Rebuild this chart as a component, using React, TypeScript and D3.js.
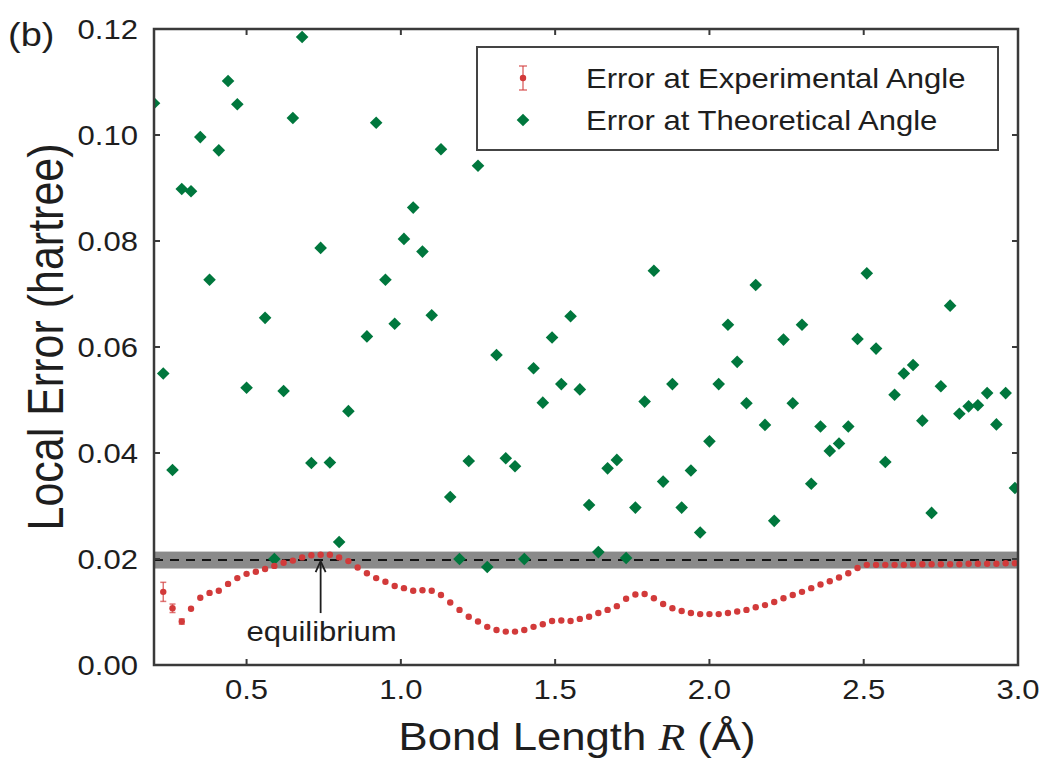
import * as d3 from 'd3';

// Error at theoretical angle (green diamonds)
const greenR = [
  0.2, 0.23, 0.26, 0.29, 0.32, 0.35, 0.38, 0.41, 0.44, 0.47, 0.5, 0.56, 0.59, 0.62, 0.65, 0.68,
  0.71, 0.74, 0.77, 0.8, 0.83, 0.89, 0.92, 0.95, 0.98, 1.01, 1.04, 1.07, 1.1, 1.13, 1.16, 1.19,
  1.22, 1.25, 1.28, 1.31, 1.34, 1.37, 1.4, 1.43, 1.46, 1.49, 1.52, 1.55, 1.58, 1.61, 1.64, 1.67,
  1.7, 1.73, 1.76, 1.79, 1.82, 1.85, 1.88, 1.91, 1.94, 1.97, 2.0, 2.03, 2.06, 2.09, 2.12, 2.15,
  2.18, 2.21, 2.24, 2.27, 2.3, 2.33, 2.36, 2.39, 2.42, 2.45, 2.48, 2.51, 2.54, 2.57, 2.6, 2.63,
  2.66, 2.69, 2.72, 2.75, 2.78, 2.81, 2.84, 2.87, 2.9, 2.93, 2.96, 2.99,
];
const greenErr = [
  0.106, 0.055, 0.0368, 0.0898, 0.0894, 0.0996, 0.0727, 0.0971, 0.1102, 0.1058, 0.0523, 0.0655,
  0.02, 0.0517, 0.1032, 0.1185, 0.0381, 0.0787, 0.0382, 0.0232, 0.0479, 0.062, 0.1023, 0.0727,
  0.0644, 0.0804, 0.0863, 0.078, 0.066, 0.0973, 0.0317, 0.02, 0.0385, 0.0942, 0.0185, 0.0585,
  0.039, 0.0375, 0.02, 0.056, 0.0495, 0.0618, 0.053, 0.0658, 0.052, 0.0302, 0.0213, 0.0371,
  0.0387, 0.0202, 0.0297, 0.0497, 0.0744, 0.0346, 0.053, 0.0297, 0.0367, 0.025, 0.0422, 0.053,
  0.0642, 0.0572, 0.0494, 0.0717, 0.0453, 0.0272, 0.0614, 0.0494, 0.0642, 0.0342, 0.045, 0.0404,
  0.0418, 0.045, 0.0615, 0.0739, 0.0597, 0.0383, 0.051, 0.055, 0.0566, 0.0461, 0.0287, 0.0526,
  0.0678, 0.0474, 0.0488, 0.049, 0.0513, 0.0454, 0.0513, 0.0334,
];

// Error at experimental angle (red, with error bars)
const redR = [
  0.23, 0.26, 0.29, 0.32, 0.35, 0.38, 0.41, 0.44, 0.47, 0.5, 0.53, 0.56, 0.59, 0.62, 0.65, 0.68,
  0.71, 0.74, 0.77, 0.8, 0.83, 0.86, 0.89, 0.92, 0.95, 0.98, 1.01, 1.04, 1.07, 1.1, 1.13, 1.16,
  1.19, 1.22, 1.25, 1.28, 1.31, 1.34, 1.37, 1.4, 1.43, 1.46, 1.49, 1.52, 1.55, 1.58, 1.61, 1.64,
  1.67, 1.7, 1.73, 1.76, 1.79, 1.82, 1.85, 1.88, 1.91, 1.94, 1.97, 2.0, 2.03, 2.06, 2.09, 2.12,
  2.15, 2.18, 2.21, 2.24, 2.27, 2.3, 2.33, 2.36, 2.39, 2.42, 2.45, 2.48, 2.51, 2.54, 2.57, 2.6,
  2.63, 2.66, 2.69, 2.72, 2.75, 2.78, 2.81, 2.84, 2.87, 2.9, 2.93, 2.96, 2.99,
];
const redErr = [
  0.0138, 0.0107, 0.0082, 0.0106, 0.0127, 0.0136, 0.014, 0.0153, 0.0164, 0.0172, 0.0176, 0.0181,
  0.0187, 0.0193, 0.0197, 0.0203, 0.0207, 0.0208, 0.0208, 0.0203, 0.0196, 0.0184, 0.0173, 0.0164,
  0.0157, 0.0149, 0.0145, 0.014, 0.0141, 0.014, 0.0132, 0.0118, 0.0104, 0.0091, 0.0082, 0.0072,
  0.0066, 0.0063, 0.0063, 0.0066, 0.0072, 0.0077, 0.0083, 0.0084, 0.0083, 0.0087, 0.0091, 0.0098,
  0.0104, 0.0111, 0.0125, 0.0133, 0.0134, 0.0126, 0.0115, 0.0107, 0.0102, 0.0098, 0.0096, 0.0096,
  0.0096, 0.0098, 0.0101, 0.0104, 0.0109, 0.0113, 0.0119, 0.0126, 0.0132, 0.0138, 0.0145, 0.0152,
  0.0158, 0.0165, 0.0173, 0.0183, 0.0189, 0.0189, 0.0189, 0.0189, 0.0189, 0.019, 0.019, 0.019,
  0.019, 0.019, 0.019, 0.0191, 0.0191, 0.0191, 0.0191, 0.0192, 0.0192,
];
// error bar half-widths for the first points, the rest are tiny
const redSigmaStart = [0.0018, 0.0008, 0.0005, 0.0003, 0.0003];

const xTicks = [0.5, 1.0, 1.5, 2.0, 2.5, 3.0];
const yTicks = [0, 0.02, 0.04, 0.06, 0.08, 0.1, 0.12];

const refLevel = 0.0198; // dashed line
const refBand = [0.0182, 0.0214]; // grey band
const equilibriumR = 0.74;

const W = 1054;
const H = 761;
const SX = 1.15; // the source text is a bit wide
const font = 'Liberation Sans, Arial, Helvetica, sans-serif';
const ink = '#1e1e1e';
const RED = '#d23a3a';
const GREEN = '#00773d';

function Txt(props: any) {
  const { x, y, size, anchor = 'start', children, ...rest } = props;
  return (
    <text
      transform={`translate(${x},${y}) scale(${SX},1)`}
      fontSize={size}
      fontFamily={font}
      textAnchor={anchor}
      fill={ink}
      {...rest}
    >
      {children}
    </text>
  );
}

const diamond = (cx: number, cy: number, r: number) =>
  `M${cx},${cy - r}L${cx + r},${cy}L${cx},${cy + r}L${cx - r},${cy}Z`;

export default function App() {
  const x = d3.scaleLinear().domain([0.2, 3.0]).range([154, 1018]);
  const y = d3.scaleLinear().domain([0, 0.12]).range([665, 29]);
  const [x0, x1] = x.range();
  const [y0, y1] = y.range();
  const tick = 6;

  return (
    <svg width={W} height={H} style={{ position: 'absolute', left: 0, top: 0, background: '#fff' }}>
      <defs>
        <clipPath id="plot">
          <rect x={x0} y={y1} width={x1 - x0} height={y0 - y1} />
        </clipPath>
      </defs>

      <g clipPath="url(#plot)">
        {/* reference band + dashed line */}
        <rect
          x={x0}
          y={y(refBand[1])}
          width={x1 - x0}
          height={y(refBand[0]) - y(refBand[1])}
          fill="#7d7d7d"
          opacity={0.9}
        />
        <line x1={x0} x2={x1} y1={y(refLevel)} y2={y(refLevel)} stroke="#111" strokeWidth={2} strokeDasharray="9,7" />

        {/* green scatter */}
        {greenR.map((r, i) => (
          <path key={'g' + i} d={diamond(x(r), y(greenErr[i]), 6.3)} fill={GREEN} />
        ))}

        {/* red with error bars */}
        {redR.map((r, i) => {
          const s = redSigmaStart[i] ?? 0.00015;
          const cx = x(r);
          return (
            <g key={'r' + i}>
              <line x1={cx} x2={cx} y1={y(redErr[i] - s)} y2={y(redErr[i] + s)} stroke={RED} strokeOpacity={0.7} strokeWidth={1.5} />
              {s > 0.0004 && (
                <>
                  <line x1={cx - 3} x2={cx + 3} y1={y(redErr[i] - s)} y2={y(redErr[i] - s)} stroke={RED} strokeWidth={1.5} strokeOpacity={0.7} />
                  <line x1={cx - 3} x2={cx + 3} y1={y(redErr[i] + s)} y2={y(redErr[i] + s)} stroke={RED} strokeWidth={1.5} strokeOpacity={0.7} />
                </>
              )}
              <circle cx={cx} cy={y(redErr[i])} r={3.2} fill={RED} />
            </g>
          );
        })}
      </g>

      {/* annotation */}
      <line x1={x(equilibriumR)} x2={x(equilibriumR)} y1={y(0.0098)} y2={y(refLevel) + 2} stroke={ink} strokeWidth={1.8} />
      <path
        d={`M${x(equilibriumR) - 5},${y(refLevel) + 12}L${x(equilibriumR)},${y(refLevel) + 1}L${x(equilibriumR) + 5},${y(refLevel) + 12}`}
        fill="none"
        stroke={ink}
        strokeWidth={1.8}
      />
      <Txt x={x(equilibriumR) + 1} y={y(0.0046)} size={27} anchor="middle">
        equilibrium
      </Txt>

      {/* frame */}
      <rect x={x0} y={y1} width={x1 - x0} height={y0 - y1} fill="none" stroke="#3a3a3a" strokeWidth={2.5} />
      {xTicks.map((t) => (
        <g key={'xt' + t}>
          <line x1={x(t)} x2={x(t)} y1={y0} y2={y0 - tick} stroke="#3a3a3a" strokeWidth={2} />
          <line x1={x(t)} x2={x(t)} y1={y1} y2={y1 + tick} stroke="#3a3a3a" strokeWidth={2} />
          <Txt x={x(t)} y={y0 + 34} size={27} anchor="middle">
            {t.toFixed(1)}
          </Txt>
        </g>
      ))}
      {yTicks.map((t) => (
        <g key={'yt' + t}>
          <line x1={x0} x2={x0 + tick} y1={y(t)} y2={y(t)} stroke="#3a3a3a" strokeWidth={2} />
          <line x1={x1} x2={x1 - tick} y1={y(t)} y2={y(t)} stroke="#3a3a3a" strokeWidth={2} />
          <Txt x={x0 - 16} y={y(t) + 10} size={27} anchor="end">
            {t.toFixed(2)}
          </Txt>
        </g>
      ))}

      {/* legend */}
      <rect x={477} y={47} width={521} height={103} fill="#fff" stroke="#444" strokeWidth={2} />
      <line x1={523} x2={523} y1={66} y2={90} stroke={RED} strokeOpacity={0.7} strokeWidth={1.5} />
      <line x1={519} x2={527} y1={66} y2={66} stroke={RED} strokeOpacity={0.7} strokeWidth={1.5} />
      <line x1={519} x2={527} y1={90} y2={90} stroke={RED} strokeOpacity={0.7} strokeWidth={1.5} />
      <circle cx={523} cy={78} r={3.2} fill={RED} />
      <path d={diamond(523, 120, 6.3)} fill={GREEN} />
      <Txt x={586} y={88} size={27}>
        Error at Experimental Angle
      </Txt>
      <Txt x={586} y={130} size={27}>
        Error at Theoretical Angle
      </Txt>

      {/* labels */}
      <Txt x={8} y={46} size={33}>
        (b)
      </Txt>
      <Txt x={577} y={750} size={38} anchor="middle">
        Bond Length{' '}
        <tspan fontFamily="Liberation Serif, Times New Roman, serif" fontStyle="italic">
          R
        </tspan>{' '}
        (Å)
      </Txt>
      <text
        transform={`translate(63,${(y0 + y1) / 2 - 10}) rotate(-90) scale(1,${SX})`}
        fontSize={43}
        fontFamily={font}
        textAnchor="middle"
        fill={ink}
      >
        Local Error (hartree)
      </text>
    </svg>
  );
}
